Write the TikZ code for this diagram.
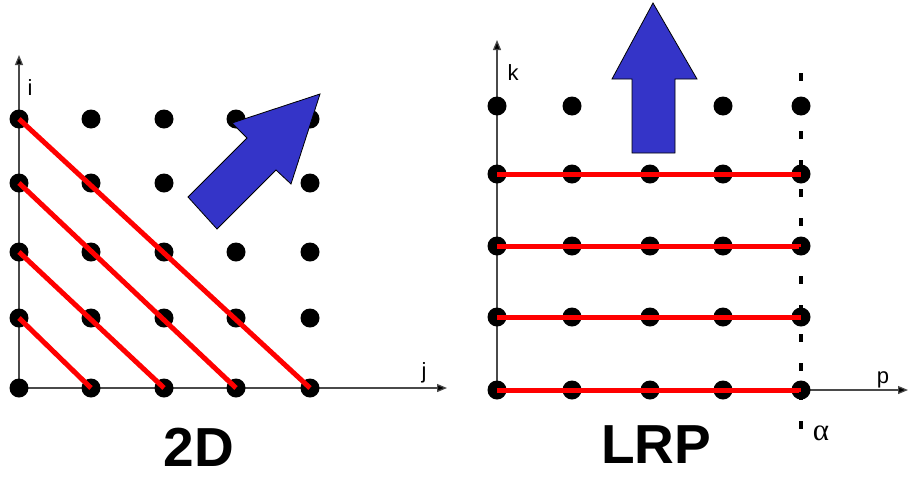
\documentclass[tikz,border=0pt]{standalone}
\usepackage{fontspec}
\setmainfont{Liberation Sans}
\newfontfamily\greekfont{Liberation Serif}
\usepackage{tikz}
\usetikzlibrary{arrows.meta}
\definecolor{wave}{HTML}{FF0000}
\definecolor{dir}{HTML}{3434C8}
\definecolor{axis}{HTML}{4A4A4A}
\tikzset{
  pt/.style={circle, fill=black, inner sep=0pt, minimum size=19pt},
  wavefront/.style={draw=wave, line width=5pt},
  ax/.style={draw=axis, line width=1.2pt, -{Triangle[length=10pt,width=8pt,fill=black]}},
  dirarrow/.style={fill=dir, draw=black, line width=0.8pt, line join=miter},
  cut/.style={draw=black, line width=4pt, dash pattern=on 8pt off 21pt},
  axlab/.style={font=\fontsize{22}{22}\selectfont, anchor=base, inner sep=0pt},
  title/.style={font=\bfseries\fontsize{55}{55}\selectfont, inner sep=0pt},
}

\begin{document}
\begin{tikzpicture}[x=1pt,y=-1pt]
  \useasboundingbox (0,0) rectangle (909,477);

  % 2D wavefront
  \coordinate (L-o) at (19,388);
  \coordinate (L-i) at (19,55);
  \coordinate (L-j) at (447,388);
  \draw[ax] (L-o) -- (L-i);
  \draw[ax] (L-o) -- (L-j);
  \foreach \c/\x in {0/19,1/91,2/164,3/236,4/310}
    \foreach \r/\y in {0/388,1/318,2/252,3/183,4/119}
      \node[pt] (L-\c-\r) at (\x,\y) {};
  \foreach \r in {1,...,4}
    \draw[wavefront] (L-0-\r.center) -- (L-\r-0.center);
  \draw[dirarrow] (320,94) -- (291,184) -- (276,170) -- (217,229)
    -- (188,197) -- (247,138) -- (232,123) -- cycle;
  \node[axlab] (lab-i) at (30,95) {i};
  \node[axlab] (lab-j) at (424,378) {j};
  \node[title] (name-2d) at (199,447) {2D};

  % LRP wavefront
  \coordinate (R-o) at (497,390);
  \coordinate (R-k) at (497,40);
  \coordinate (R-p) at (908,390);
  \draw[ax] (R-o) -- (R-k);
  \draw[ax] (R-o) -- (R-p);
  \foreach \c/\x in {0/497,1/572,2/650,3/723,4/801}
    \foreach \r/\y in {0/390,1/317,2/246,3/174,4/106}
      \node[pt] (R-\c-\r) at (\x,\y) {};
  \foreach \r in {0,...,3}
    \draw[wavefront] (R-0-\r.center) -- (R-4-\r.center);
  \coordinate (cut-top) at (801,73);
  \coordinate (cut-bot) at (801,429);
  \draw[cut] (cut-top) -- (cut-bot);
  \draw[dirarrow] (653,3) -- (697,79) -- (675,79) -- (675,153)
    -- (632,153) -- (632,79) -- (612,79) -- cycle;
  \node[axlab] (lab-k) at (513,80) {k};
  \node[axlab] (lab-p) at (883,383) {p};
  \node[axlab] (lab-alpha) at (821,440) {\greekfont\fontsize{31}{31}\selectfont α};
  \node[title] (name-lrp) at (656,445) {LRP};
\end{tikzpicture}
\end{document}
